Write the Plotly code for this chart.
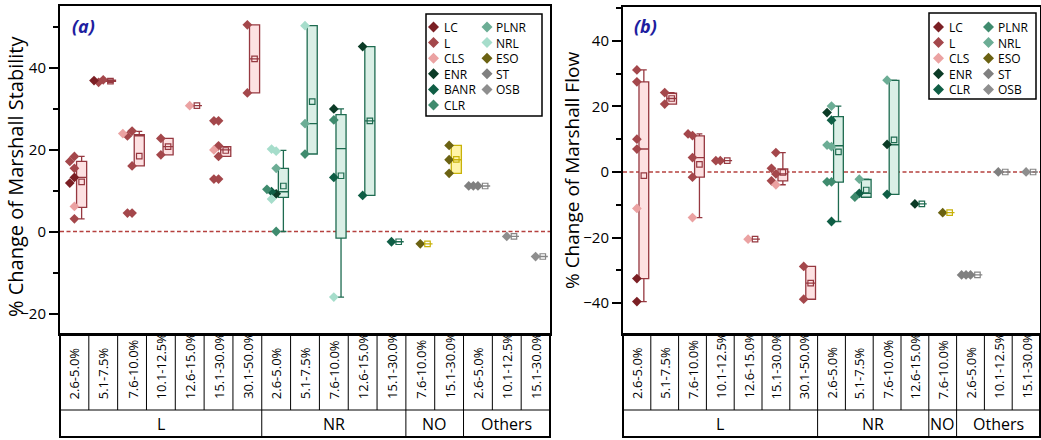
import plotly.graph_objects as go

W, H = 1041, 440

# ---------------- panel (a): Marshall stability ----------------
A_LABELS = ["2.6-5.0%", "5.1-7.5%", "7.6-10.0%", "10.1-12.5%", "12.6-15.0%", "15.1-30.0%", "30.1-50.0%",
            "2.6-5.0%", "5.1-7.5%", "7.6-10.0%", "12.6-15.0%", "15.1-30.0%",
            "7.6-10.0%", "15.1-30.0%",
            "2.6-5.0%", "10.1-12.5%", "15.1-30.0%"]
A_GROUPS = ["L"] * 7 + ["NR"] * 5 + ["NO"] * 2 + ["Others"] * 3
A_VALUES = [
    [15.4, 17.1, 18.3, 13.2, 11.8, 6.1, 3.1],
    [37.0, 36.4, 36.8],
    [24.5, 23.3, 23.9, 16.0, 4.5, 4.5],
    [22.7, 18.7],
    [30.7],
    [27.0, 27.0, 20.9, 19.9, 18.3, 12.8, 12.8],
    [50.4, 33.8],
    [19.6, 20.1, 15.4, 9.2, 9.7, 10.3, 7.9, 0.0],
    [50.2, 26.3, 18.9],
    [29.9, 27.2, 13.2, -16.0],
    [45.1, 8.8],
    [-2.5],
    [-3.0],
    [21.0, 17.5, 14.2],
    [11.1, 11.1, 11.1],
    [-1.2],
    [-6.1],
]
A_SERIES = [
    ["L", "L", "L", "LC", "LC", "CLS", "L"],
    ["L", "L", "LC"],
    ["L", "L", "CLS", "L", "L", "L"],
    ["L", "L"],
    ["CLS"],
    ["L", "L", "L", "CLS", "L", "L", "L"],
    ["L", "L"],
    ["NRL", "NRL", "PLNR", "ENR", "BANR", "CLR", "NRL", "CLR"],
    ["NRL", "PLNR", "CLR"],
    ["ENR", "CLR", "BANR", "NRL"],
    ["ENR", "BANR"],
    ["BANR"],
    ["ESO"],
    ["ESO", "ESO", "ESO"],
    ["ST", "ST", "ST"],
    ["OSB"],
    ["OSB"],
]
A_BOX_LO = [3.1, 36.4, 16.0, 18.7, 30.7, 18.3, 33.8, 0.0, 18.9, -16.0, 8.8, -2.5, -3.0, 14.2, 11.1, -1.2, -6.1]
A_BOX_Q1 = [5.9, 36.6, 16.0, 18.7, 30.7, 18.3, 33.8, 8.3, 18.9, -1.6, 8.8, -2.5, -3.0, 14.2, 11.1, -1.2, -6.1]
A_BOX_MED = [13.2, 36.7, 23.6, 20.7, 30.7, 19.9, 42.1, 9.7, 26.3, 20.2, 27.0, -2.5, -3.0, 17.5, 11.1, -1.2, -6.1]
A_BOX_Q3 = [17.1, 36.9, 23.6, 22.7, 30.7, 20.7, 50.4, 15.4, 50.2, 28.5, 45.1, -2.5, -3.0, 21.0, 11.1, -1.2, -6.1]
A_BOX_HI = [18.3, 37.0, 24.4, 22.7, 30.7, 20.7, 50.4, 19.8, 50.2, 29.9, 45.1, -2.5, -3.0, 21.0, 11.1, -1.2, -6.1]
A_BOX_MEAN = [12.1, 36.7, 18.4, 20.7, 30.7, 19.75, 42.1, 11.1, 31.7, 13.6, 27.0, -2.5, -3.0, 17.6, 11.1, -1.2, -6.1]
A_LEGEND_COL1 = ["LC", "L", "CLS", "ENR", "BANR", "CLR"]
A_LEGEND_COL2 = ["PLNR", "NRL", "ESO", "ST", "OSB"]

# ---------------- panel (b): Marshall flow ----------------
B_LABELS = ["2.6-5.0%", "5.1-7.5%", "7.6-10.0%", "10.1-12.5%", "12.6-15.0%", "15.1-30.0%", "30.1-50.0%",
            "2.6-5.0%", "5.1-7.5%", "7.6-10.0%", "12.6-15.0%",
            "7.6-10.0%",
            "2.6-5.0%", "10.1-12.5%", "15.1-30.0%"]
B_GROUPS = ["L"] * 7 + ["NR"] * 4 + ["NO"] + ["Others"] * 3
B_VALUES = [
    [31.1, 27.5, 10.0, 7.0, -11.1, -32.5, -39.5],
    [24.2, 20.7],
    [11.1, 11.6, 4.4, -1.6, -13.9],
    [3.45, 3.45],
    [-20.5],
    [5.9, -0.6, 1.1, -2.7, -3.9],
    [-28.8, -38.8],
    [20.1, 18.1, 15.8, 7.7, 8.2, -3.0, -3.0, -15.1],
    [-2.2, -6.5, -7.7],
    [28.0, 8.4, -6.8],
    [-9.75],
    [-12.4],
    [-31.4, -31.4, -31.4],
    [0.0],
    [0.0],
]
B_SERIES = [
    ["L", "L", "L", "L", "CLS", "LC", "LC"],
    ["L", "L"],
    ["L", "L", "L", "L", "CLS"],
    ["L", "L"],
    ["CLS"],
    ["L", "L", "L", "L", "CLS"],
    ["L", "L"],
    ["NRL", "ENR", "CLR", "NRL", "NRL", "PLNR", "PLNR", "CLR"],
    ["NRL", "CLR", "PLNR"],
    ["NRL", "ENR", "CLR"],
    ["ENR"],
    ["ESO"],
    ["ST", "ST", "ST"],
    ["ST"],
    ["OSB"],
]
B_BOX_LO = [-39.5, 20.7, -13.9, 3.45, -20.5, -3.9, -38.8, -15.1, -7.7, -6.8, -9.75, -12.4, -31.4, 0.0, 0.0]
B_BOX_Q1 = [-32.5, 20.7, -1.6, 3.45, -20.5, -2.7, -38.8, -3.1, -7.7, -6.8, -9.75, -12.4, -31.4, 0.0, 0.0]
B_BOX_MED = [7.0, 22.4, 4.4, 3.45, -20.5, -0.6, -33.9, 8.0, -6.5, 8.3, -9.75, -12.4, -31.4, 0.0, 0.0]
B_BOX_Q3 = [27.5, 24.0, 11.0, 3.45, -20.5, 0.9, -28.8, 16.9, -2.3, 27.9, -9.75, -12.4, -31.4, 0.0, 0.0]
B_BOX_HI = [31.1, 24.2, 11.6, 3.45, -20.5, 5.9, -28.8, 20.1, -2.2, 28.0, -9.75, -12.4, -31.4, 0.0, 0.0]
B_BOX_MEAN = [-1.1, 22.4, 2.3, 3.45, -20.5, -0.1, -33.9, 6.1, -5.5, 9.8, -9.75, -12.4, -31.4, 0.0, 0.0]
B_LEGEND_COL1 = ["LC", "L", "CLS", "ENR", "CLR"]
B_LEGEND_COL2 = ["PLNR", "NRL", "ESO", "ST", "OSB"]

# ---------------- styles ----------------
A_COLORS = {"LC": "#7B1F24", "L": "#A4474B", "CLS": "#EBA2A2", "ENR": "#0B3B26", "BANR": "#0F5E45",
            "CLR": "#3F8B6E", "PLNR": "#6CAD95", "NRL": "#A6DDCB", "ESO": "#6B6212",
            "ST": "#808080", "OSB": "#8E8E8E"}
B_COLORS = dict(A_COLORS, CLR="#0F5E45", PLNR="#3F8B6E", NRL="#6CAD95")
BOX_STYLE = {"L": ("#963840", "#FDE1E2"), "NR": ("#1E6B50", "#DAEFE6"),
             "NO": ("#C8B20A", "#FFF4A8"), "Others": ("#858585", "#E6E6E6")}
FONT = "Open Sans"
ZERO_COLOR = "#B5413F"
LEG_FONT = 12
LEG_STEP = 1.3 * LEG_FONT

PLOT_BOTTOM, ROW_SPLIT, TABLE_BOTTOM = 334, 410, 437


def py(p):
    return (H - p) / H


def pxx(p):
    return p / W


def jitter(vals, px_per_unit):
    placed, offs = [], []
    for v in vals:
        chosen = None
        for cand in (0.0, -0.16, -0.32, 0.13):
            if all(not (abs(cand - o) < 0.12 and abs(v - pv) * px_per_unit < 7) for o, pv in placed):
                chosen = cand
                break
        if chosen is None:
            chosen = 0.0
        placed.append((chosen, v))
        offs.append(chosen)
    return offs


fig = go.Figure()
shapes, annots = [], []

panels = [
    dict(xa="x", ya="y", xr=(60, 550), top=6, yr=(-25, 55), labels=A_LABELS, groups=A_GROUPS,
         values=A_VALUES, series=A_SERIES, colors=A_COLORS,
         box=(A_BOX_LO, A_BOX_Q1, A_BOX_MED, A_BOX_Q3, A_BOX_HI, A_BOX_MEAN),
         leg=(A_LEGEND_COL1, A_LEGEND_COL2), legbox=(426, 542, 14, 116),
         legx=(433.5, 441.5, 487, 493.5), tag="(a)", tagx=70,
         title="% Change of Marshall Stability", titlex=16, titley=177, titlesize=20),
    dict(xa="x2", ya="y2", xr=(623, 1040), top=7, yr=(-49.4, 50.3), labels=B_LABELS, groups=B_GROUPS,
         values=B_VALUES, series=B_SERIES, colors=B_COLORS,
         box=(B_BOX_LO, B_BOX_Q1, B_BOX_MED, B_BOX_Q3, B_BOX_HI, B_BOX_MEAN),
         leg=(B_LEGEND_COL1, B_LEGEND_COL2), legbox=(929, 1036, 13, 99),
         legx=(938.5, 946.5, 988.5, 995.5), tag="(b)", tagx=632,
         title="% Change of Marshall Flow", titlex=572, titley=171, titlesize=19),
]

for P in panels:
    n = len(P["labels"])
    scale = (PLOT_BOTTOM - P["top"]) / (P["yr"][1] - P["yr"][0])
    # points
    xs, ys, cs = [], [], []
    for i, (vals, sers) in enumerate(zip(P["values"], P["series"]), start=1):
        for off, v, s in zip(jitter(vals, scale), vals, sers):
            xs.append(i + off)
            ys.append(v)
            cs.append(P["colors"][s])
    # boxes per group
    lo, q1, med, q3, hi, mean = P["box"]
    for g in ["L", "NR", "NO", "Others"]:
        idx = [i for i in range(n) if P["groups"][i] == g]
        if not idx:
            continue
        lc, fc = BOX_STYLE[g]
        fig.add_trace(go.Box(
            x=[i + 1 + 0.25 for i in idx],
            lowerfence=[lo[i] for i in idx], q1=[q1[i] for i in idx], median=[med[i] for i in idx],
            q3=[q3[i] for i in idx], upperfence=[hi[i] for i in idx],
            width=0.35, whiskerwidth=0.6, boxpoints=False,
            line=dict(color=lc, width=1.3), fillcolor=fc,
            xaxis=P["xa"], yaxis=P["ya"], hoverinfo="skip"))
    fig.add_trace(go.Scatter(x=xs, y=ys, mode="markers", xaxis=P["xa"], yaxis=P["ya"],
                             marker=dict(symbol="diamond", size=7.5, color=cs, line=dict(width=0)),
                             hoverinfo="skip"))
    for g in ["L", "NR", "NO", "Others"]:
        idx = [i for i in range(n) if P["groups"][i] == g]
        if not idx:
            continue
        lc = BOX_STYLE[g][0]
        fig.add_trace(go.Scatter(x=[i + 1 + 0.25 for i in idx], y=[mean[i] for i in idx], mode="markers",
                                 xaxis=P["xa"], yaxis=P["ya"], hoverinfo="skip",
                                 marker=dict(symbol="square-open", size=5.5, color=lc,
                                             line=dict(width=1.2, color=lc))))

    # zero line
    shapes.append(dict(type="line", xref=P["xa"] + " domain", yref=P["ya"], x0=0, x1=1, y0=0, y1=0,
                       line=dict(color=ZERO_COLOR, width=1.5, dash="4px,2.5px"), layer="below"))

    # table below the plot
    x0, x1 = P["xr"]
    shapes.append(dict(type="rect", xref="paper", yref="paper", x0=pxx(x0), x1=pxx(x1),
                       y0=py(TABLE_BOTTOM), y1=py(PLOT_BOTTOM), line=dict(color="black", width=2)))
    shapes.append(dict(type="line", xref="paper", yref="paper", x0=pxx(x0), x1=pxx(x1),
                       y0=py(ROW_SPLIT), y1=py(ROW_SPLIT), line=dict(color="black", width=1)))
    for i in range(1, n):
        bottom = TABLE_BOTTOM if P["groups"][i] != P["groups"][i - 1] else ROW_SPLIT
        shapes.append(dict(type="line", xref=P["xa"], yref="paper", x0=i + 0.5, x1=i + 0.5,
                           y0=py(PLOT_BOTTOM), y1=py(bottom), line=dict(color="black", width=1)))
    for i, lab in enumerate(P["labels"], start=1):
        annots.append(dict(x=i, y=py(401), xref=P["xa"], yref="paper", text=lab, showarrow=False,
                           textangle=-90, xanchor="center", yanchor="bottom",
                           font=dict(size=13, family=FONT, color="black")))
    # group labels
    start = 0
    for i in range(1, n + 1):
        if i == n or P["groups"][i] != P["groups"][start]:
            annots.append(dict(x=(start + 1 + i) / 2, y=py((ROW_SPLIT + TABLE_BOTTOM) / 2), xref=P["xa"],
                               yref="paper", text=P["groups"][start], showarrow=False,
                               xanchor="center", yanchor="middle",
                               font=dict(size=16, family=FONT, color="black")))
            start = i

    # legend
    bx0, bx1, by0, by1 = P["legbox"]
    shapes.append(dict(type="rect", xref="paper", yref="paper", x0=pxx(bx0), x1=pxx(bx1),
                       y0=py(by1), y1=py(by0), line=dict(color="black", width=1.5), fillcolor="white",
                       layer="above"))
    mx1, tx1, mx2, tx2 = P["legx"]
    for col, (mx, tx) in zip(P["leg"], [(mx1, tx1), (mx2, tx2)]):
        for k, name in enumerate(col):
            cy = 27 + LEG_STEP * k
            h = 5.5
            path = (f"M {pxx(mx)},{py(cy - h)} L {pxx(mx + h)},{py(cy)} L {pxx(mx)},{py(cy + h)} "
                    f"L {pxx(mx - h)},{py(cy)} Z")
            shapes.append(dict(type="path", xref="paper", yref="paper", path=path,
                               fillcolor=P["colors"][name], line=dict(width=0), layer="above"))
        mid = 27 + LEG_STEP * (len(col) - 1) / 2
        annots.append(dict(x=pxx(tx), y=py(mid + 0.5), xref="paper", yref="paper", text="<br>".join(col),
                           showarrow=False, xanchor="left", yanchor="middle", align="left",
                           font=dict(size=LEG_FONT, family=FONT, color="black")))

    # panel tag and y title
    annots.append(dict(x=pxx(P["tagx"]), y=py(26), xref="paper", yref="paper",
                       text="<b><i>" + P["tag"] + "</i></b>", showarrow=False, xanchor="left",
                       yanchor="middle", font=dict(size=18, family=FONT, color="#1E1EA0")))
    annots.append(dict(x=pxx(P["titlex"]), y=py(P["titley"]), xref="paper", yref="paper",
                       text=P["title"], showarrow=False, textangle=-90, xanchor="center",
                       yanchor="middle", font=dict(size=P["titlesize"], family=FONT, color="black")))

axis_common = dict(showline=True, linecolor="black", linewidth=2, mirror=True, showgrid=False,
                   zeroline=False, fixedrange=True)
yticks_common = dict(ticks="outside", ticklen=9, tickwidth=1.5, tickcolor="black",
                     tickfont=dict(size=15, family=FONT, color="black"),
                     minor=dict(dtick=10, tick0=0, ticks="outside", ticklen=5, tickwidth=1.5,
                                tickcolor="black"))

fig.update_layout(
    width=W, height=H, autosize=False,
    margin=dict(l=0, r=0, t=0, b=0),
    paper_bgcolor="white", plot_bgcolor="rgba(0,0,0,0)",
    showlegend=False, boxmode="overlay",
    font=dict(family=FONT, color="black"),
    xaxis=dict(domain=[60 / W, 550 / W], range=[0.5, len(A_LABELS) + 0.5], showticklabels=False,
               ticks="", anchor="y", **axis_common),
    yaxis=dict(domain=[py(PLOT_BOTTOM), py(6)], range=[-25, 55], tickvals=[-20, 0, 20, 40],
               anchor="x", **axis_common, **yticks_common),
    xaxis2=dict(domain=[623 / W, 1040 / W], range=[0.5, len(B_LABELS) + 0.5], showticklabels=False,
                ticks="", anchor="y2", **axis_common),
    yaxis2=dict(domain=[py(PLOT_BOTTOM), py(7)], range=[-49.4, 50.3], tickvals=[-40, -20, 0, 20, 40],
                anchor="x2", **axis_common, **yticks_common),
    shapes=shapes, annotations=annots,
)

fig.write_html("out.html")
